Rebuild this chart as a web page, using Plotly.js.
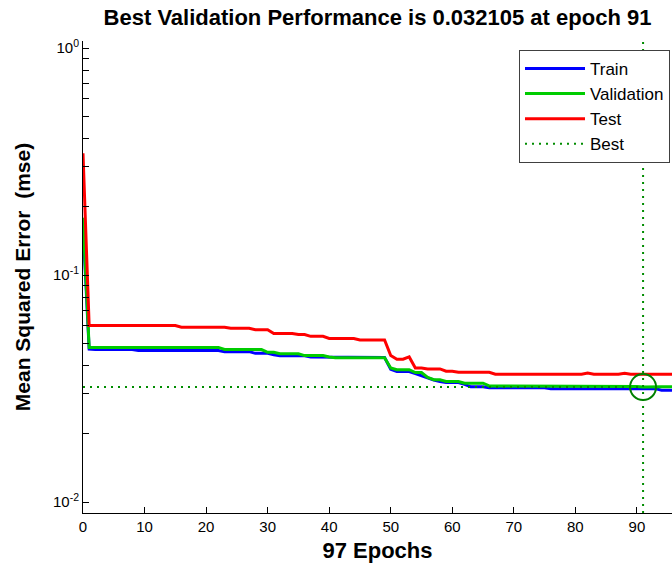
<!DOCTYPE html>
<html>
<head>
<meta charset="utf-8">
<script src="https://cdn.plot.ly/plotly-3.0.1.min.js"></script>
<style>html,body{margin:0;padding:0;background:#fff;overflow:hidden;}</style>
</head>
<body>
<div id="chart" style="width:672px;height:570px;"></div>
<script>
// Epoch indices
const epochs = [0,1,2,3,4,5,6,7,8,9,10,11,12,13,14,15,16,17,18,19,20,21,22,23,24,25,26,27,28,29,30,31,32,33,34,35,36,37,38,39,40,41,42,43,44,45,46,47,48,49,50,51,52,53,54,55,56,57,58,59,60,61,62,63,64,65,66,67,68,69,70,71,72,73,74,75,76,77,78,79,80,81,82,83,84,85,86,87,88,89,90,91,92,93,94,95,96,97];

// Mean squared error per epoch
const trainPerf = [0.165,
 0.0472,0.0470,0.0470,0.0470,0.0470,0.0470,0.0470,0.0470,
 0.0465,0.0465,0.0465,0.0465,0.0468,
 0.0465,0.0465,0.0465,0.0465,0.0465,0.0465,0.0465,0.0465,0.0465,
 0.0460,0.0460,0.0460,0.0460,0.0460,
 0.0452,0.0452,0.0452,0.0446,
 0.0441,0.0441,0.0441,0.0441,0.0441,
 0.0436,0.0436,0.0436,0.0436,0.0436,
 0.0433,0.0433,0.0433,0.0433,0.0433,0.0433,0.0433,0.0433,
 0.0385,0.0376,0.0376,0.0376,0.0368,0.0360,0.0350,0.0345,0.0340,
 0.0336,0.0336,0.0336,0.0330,0.0322,0.0322,0.0322,
 0.0319,0.0319,0.0319,0.0319,0.0319,0.0319,0.0319,0.0319,0.0319,0.0319,
 0.0316,0.0316,0.0316,0.0316,0.0316,0.0316,0.0316,0.0316,0.0316,0.0316,0.0316,0.0316,0.0316,0.0316,0.0316,0.0316,0.0316,0.0316,
 0.0311,0.0311,0.0311,0.0311];

const valPerf = [0.179,
 0.0480,0.0480,0.0480,0.0480,0.0480,0.0480,0.0480,0.0480,0.0480,0.0480,0.0480,
 0.0480,0.0480,0.0480,0.0480,0.0480,0.0480,0.0480,0.0480,0.0480,0.0480,0.0480,
 0.0470,0.0470,0.0470,0.0470,0.0470,0.0470,0.0470,
 0.0457,0.0457,
 0.0450,0.0450,0.0450,0.0450,
 0.0442,0.0442,0.0442,0.0442,
 0.0436,
 0.0432,0.0432,0.0432,0.0432,0.0432,0.0432,0.0432,0.0432,0.0432,
 0.0390,0.0383,0.0383,0.0383,0.0372,0.0372,0.0354,0.0346,0.0346,
 0.0340,0.0340,0.0340,0.0334,0.0334,0.0334,0.0334,
 0.0325,0.0325,0.0325,0.0325,0.0325,0.0325,0.0325,0.0325,0.0325,0.0325,
 0.0323,0.0323,0.0323,0.0323,0.0323,0.0323,0.0323,0.0323,0.0323,0.0323,0.0323,0.0323,0.0323,0.0323,0.0323,
 0.032105,
 0.0322,0.0322,0.0322,0.0322,0.0322,0.0322];

const testPerf = [0.344,
 0.0599,0.0599,0.0599,0.0599,0.0599,0.0599,0.0599,0.0599,0.0599,0.0599,0.0599,0.0599,0.0599,0.0599,0.0599,
 0.0589,0.0589,0.0589,0.0589,0.0589,0.0589,0.0589,0.0589,
 0.0583,0.0583,0.0583,0.0583,
 0.0575,0.0575,0.0575,
 0.0553,0.0553,0.0553,0.0553,
 0.0547,0.0547,
 0.0537,0.0537,0.0537,
 0.0526,0.0526,0.0526,0.0526,0.0526,
 0.0518,0.0518,0.0518,0.0518,0.0518,
 0.0442,0.0426,0.0426,0.0436,0.0390,0.0390,0.0386,0.0386,0.0386,
 0.0377,0.0377,0.0373,0.0373,0.0373,0.0373,0.0373,0.0373,
 0.0366,0.0366,0.0366,0.0366,0.0366,0.0366,0.0366,0.0366,0.0366,0.0366,0.0366,0.0366,0.0366,0.0366,0.0366,
 0.0370,0.0366,0.0366,0.0366,0.0366,0.0366,0.0369,
 0.0366,0.0366,0.0366,0.0366,0.0366,0.0366,0.0366,0.0366,0.0366];

const bestEpoch = 91;
const bestPerf = 0.032105;

// Axis labels
const xTickVals = [0,10,20,30,40,50,60,70,80,90];
const yTickVals = [1,0.1,0.01];
const yTickText = ['10<sup>0</sup>','10<sup>-1</sup>','10<sup>-2</sup>'];
const yMinorVals = [0.9,0.8,0.7,0.6,0.5,0.4,0.3,0.2,0.09,0.08,0.07,0.06,0.05,0.04,0.03,0.02];
const yLogRange = [-2.048, 0.031];
const xRange = [0, 95.7];

const yMin = Math.pow(10, yLogRange[0]);
const yMax = Math.pow(10, yLogRange[1]);

const font = '"Liberation Sans", Arial, Helvetica, sans-serif';

const traces = [
  {x: epochs, y: trainPerf, name: 'Train', mode: 'lines', line: {color: 'rgb(0,0,255)', width: 3}},
  {x: epochs, y: valPerf, name: 'Validation', mode: 'lines', line: {color: 'rgb(0,204,0)', width: 3}},
  {x: epochs, y: testPerf, name: 'Test', mode: 'lines', line: {color: 'rgb(255,0,0)', width: 3}},
  {x: [bestEpoch, bestEpoch, null, 0, bestEpoch], y: [yMin, yMax, null, bestPerf, bestPerf],
   name: 'Best', mode: 'lines', connectgaps: false,
   line: {color: 'rgb(0,140,0)', width: 2, dash: '2px,5px'}},
  {x: [bestEpoch], y: [bestPerf], mode: 'markers', showlegend: false, hoverinfo: 'skip',
   marker: {symbol: 'circle-open', size: 26, color: 'rgb(0,128,0)', line: {width: 2, color: 'rgb(0,128,0)'}}}
];

const layout = {
  width: 672, height: 570, autosize: false,
  margin: {l: 83, r: 0, t: 41, b: 57, pad: 0},
  paper_bgcolor: '#fff', plot_bgcolor: '#fff',
  font: {family: font, color: '#000', size: 15},
  title: {text: '<b>Best Validation Performance is 0.032105 at epoch 91</b>',
          font: {family: font, size: 22, color: '#000'},
          x: 0.5, xref: 'paper', xanchor: 'center', y: 0.969, yref: 'container', yanchor: 'middle'},
  xaxis: {range: xRange, tickmode: 'array', tickvals: xTickVals, ticks: 'inside', ticklen: 6,
          tickcolor: '#000', showline: true, linecolor: '#000', linewidth: 1, showgrid: false,
          zeroline: false, mirror: false, tickfont: {size: 15},
          title: {text: '<b>97 Epochs</b>', font: {size: 22}, standoff: 8}},
  yaxis: {type: 'log', range: yLogRange, tickmode: 'array', tickvals: yTickVals, ticktext: yTickText,
          ticks: 'inside', ticklen: 6, tickcolor: '#000', showline: true, linecolor: '#000', linewidth: 1,
          showgrid: false, zeroline: false, mirror: false, tickfont: {size: 15},
          minor: {tickmode: 'array', tickvals: yMinorVals, ticks: 'inside', ticklen: 6, tickcolor: '#000', showgrid: false},
          title: {text: '<b>Mean Squared Error\u00a0 (mse)</b>', font: {size: 21}, standoff: 16}},
  legend: {x: 0.9966, xanchor: 'right', y: 0.981, yanchor: 'top', bgcolor: '#fff',
           bordercolor: '#404040', borderwidth: 1, font: {size: 17}, tracegroupgap: 0, itemwidth: 60},
  showlegend: true
};

Plotly.newPlot('chart', traces, layout, {displayModeBar: false, staticPlot: true});
</script>
</body>
</html>
